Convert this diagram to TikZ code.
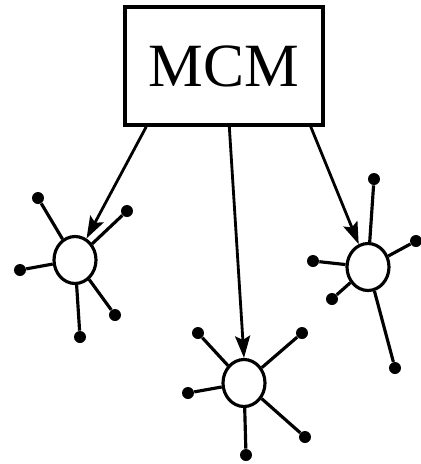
\documentclass[tikz,border=0pt]{standalone}
\usepackage{fontspec}
\setmainfont{Liberation Serif}
\usepackage{tikz}
\usetikzlibrary{arrows.meta,shapes,positioning}
\tikzstyle{mcmbox} = [rectangle, draw=black, line width=2pt, minimum width=3.96cm, minimum height=2.36cm, text centered, font=\fontsize{35}{40}\selectfont]
\tikzstyle{hub} = [ellipse, draw=black, line width=1.8pt, minimum width=0.84cm, minimum height=0.94cm, inner sep=0pt]
\tikzstyle{leaf} = [circle, fill=black, minimum size=0.24cm, inner sep=0pt]
\tikzstyle{arrow} = [line width=1.6pt, -{Stealth[length=4.4mm,width=3mm,inset=0.8mm]}]
\tikzstyle{spoke} = [line width=1.8pt]

\begin{document}
\begin{tikzpicture}[x=0.02cm, y=-0.02cm]
\useasboundingbox (0,0) rectangle (420,464);
% Controller box
\node (mcm) [mcmbox] at (224,66) {MCM};

% Left hub
\node (hubL) [hub] at (75,260) {};
\node (l1) [leaf] at (38,198) {};
\node (l2) [leaf] at (127,211) {};
\node (l3) [leaf] at (20,270) {};
\node (l4) [leaf] at (115,315) {};
\node (l5) [leaf] at (80,337) {};

% Middle hub
\node (hubM) [hub] at (244,383) {};
\node (m1) [leaf] at (198,333) {};
\node (m2) [leaf] at (302,333) {};
\node (m3) [leaf] at (188,393) {};
\node (m4) [leaf] at (305,437) {};
\node (m5) [leaf] at (246,455) {};

% Right hub
\node (hubR) [hub] at (368,267) {};
\node (r1) [leaf] at (374,179) {};
\node (r2) [leaf] at (416,241) {};
\node (r3) [leaf] at (313,261) {};
\node (r4) [leaf] at (332,299) {};
\node (r5) [leaf] at (395,368) {};

% Spokes
\foreach \h/\a/\b/\c/\d/\e in {hubL/l1/l2/l3/l4/l5, hubM/m1/m2/m3/m4/m5, hubR/r1/r2/r3/r4/r5}
  \draw[spoke] (\h) -- (\a) (\h) -- (\b) (\h) -- (\c) (\h) -- (\d) (\h) -- (\e);

% Links from the box
\draw[arrow] (mcm.218) -- (hubL);
\draw[arrow] (mcm.275.8) -- (hubM.north);
\draw[arrow] (mcm.325.5) -- (hubR);
\end{tikzpicture}
\end{document}
